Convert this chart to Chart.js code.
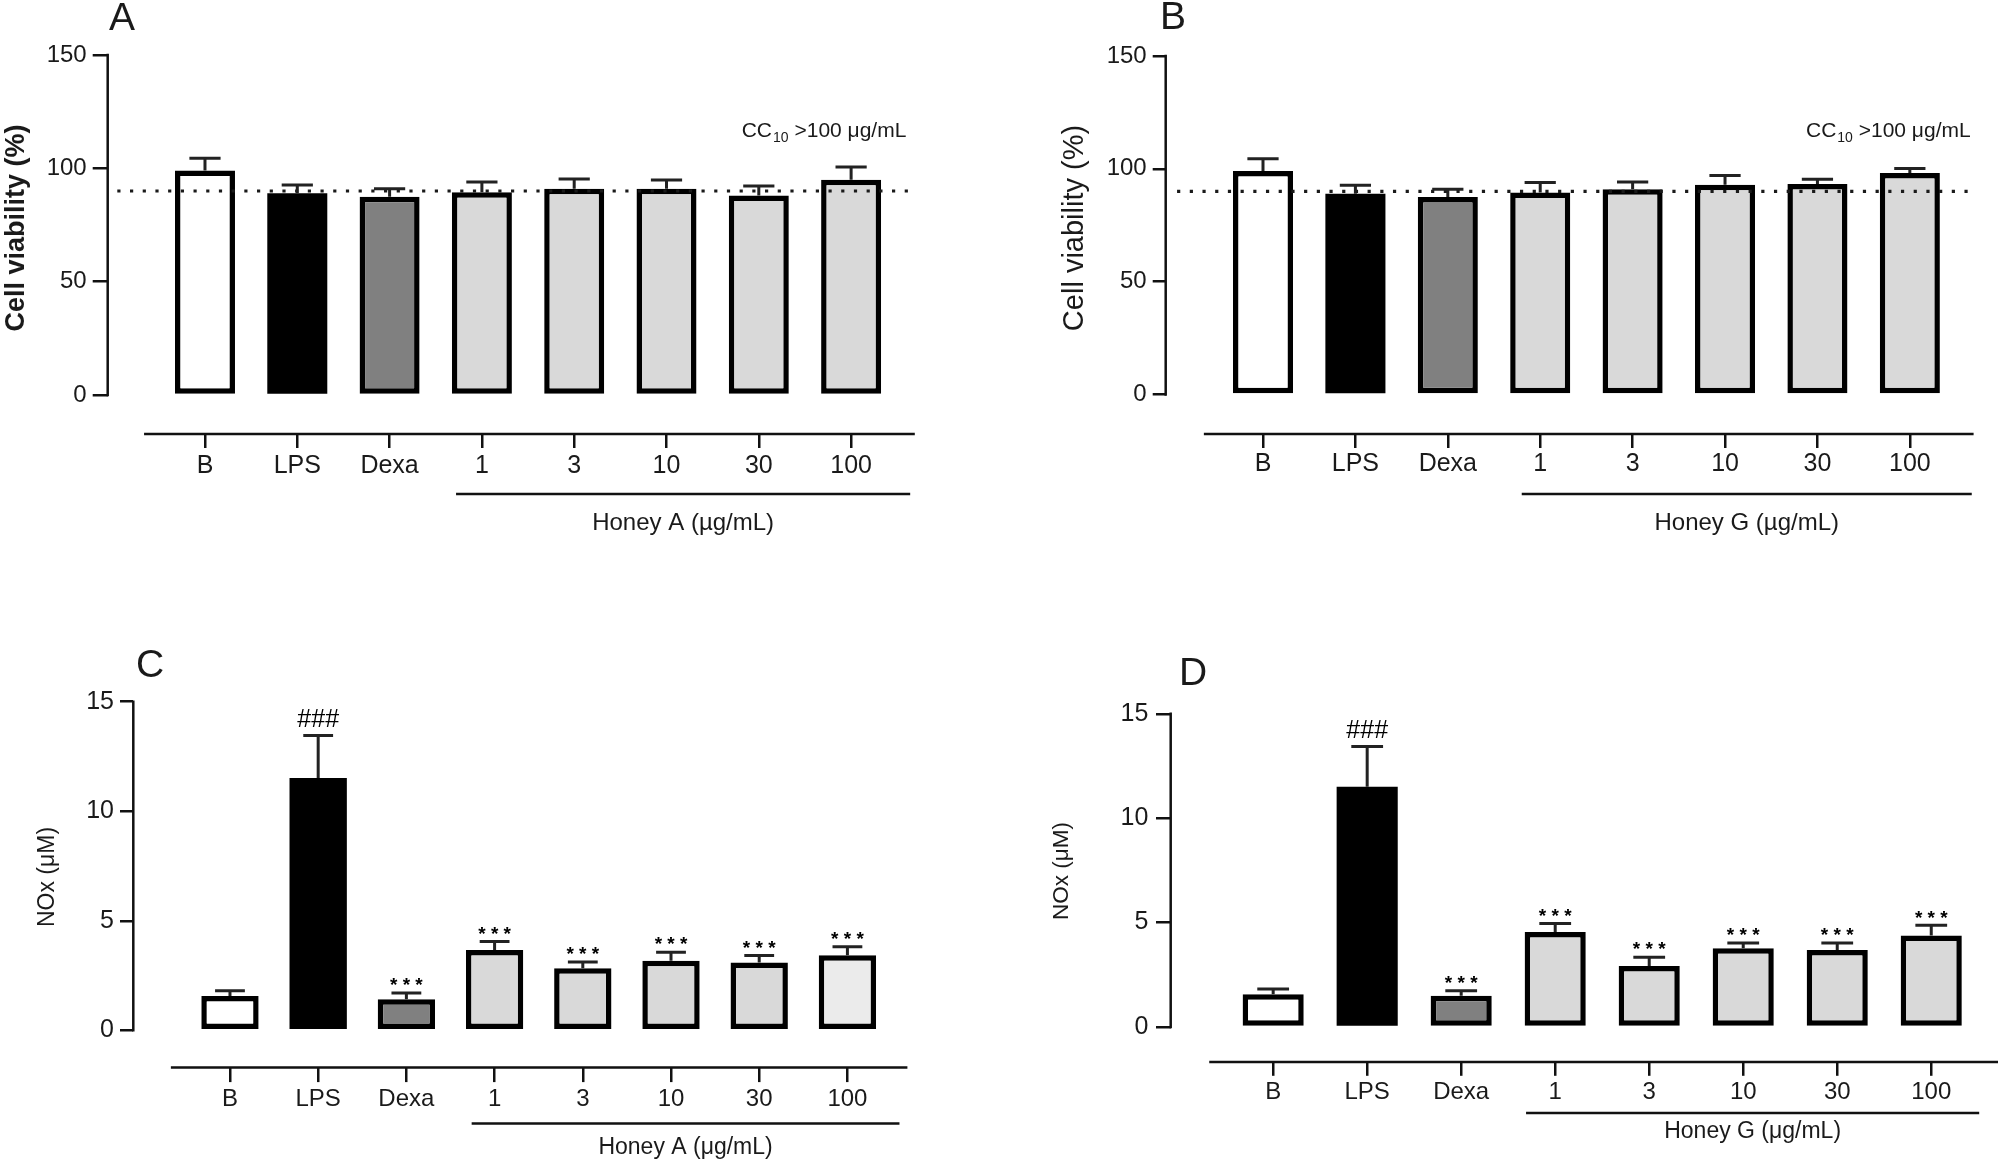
<!DOCTYPE html>
<html>
<head>
<meta charset="utf-8">
<script src="https://cdn.jsdelivr.net/npm/chart.js@4.4.1/dist/chart.umd.min.js"></script>
<style>
html, body { margin: 0; padding: 0; background: #ffffff; }
#wrap { position: relative; width: 2000px; height: 1161px; overflow: hidden; background: #ffffff; }
#wrap canvas { position: absolute; left: 0; top: 0; }
</style>
</head>
<body>
<div id="wrap">
  <canvas id="cA" width="2000" height="1161"></canvas>
  <canvas id="cB" width="2000" height="1161"></canvas>
  <canvas id="cC" width="2000" height="1161"></canvas>
  <canvas id="cD" width="2000" height="1161"></canvas>
</div>
<script>
// ---------- data ----------
const categories = ['B', 'LPS', 'Dexa', '1', '3', '10', '30', '100'];
const yTicksViability = [0, 50, 100, 150];
const yTicksNOx = [0, 5, 10, 15];

const viabilityHoneyA    = [99, 89, 87.5, 89.5, 91, 91, 88, 95];
const viabilityHoneyAErr = [5.5, 3.7, 3.5, 4.5, 4.3, 3.8, 4.2, 5.6];
const viabilityHoneyG    = [99, 89, 87.5, 89.5, 91, 93, 93.3, 98.2];
const viabilityHoneyGErr = [5.5, 3.7, 3.5, 4.5, 3.2, 4.0, 2.1, 2.0];

const noxHoneyA    = [1.57, 11.52, 1.42, 3.67, 2.83, 3.18, 3.10, 3.43];
const noxHoneyAErr = [0.24, 1.94, 0.28, 0.39, 0.29, 0.39, 0.32, 0.39];
const noxHoneyG    = [1.57, 11.51, 1.49, 4.55, 2.92, 3.77, 3.69, 4.38];
const noxHoneyGErr = [0.25, 1.92, 0.24, 0.41, 0.42, 0.25, 0.33, 0.49];

const viabilityThreshold = 90;
const significanceNOx = ['', '###', '***', '***', '***', '***', '***', '***'];

const barColors  = ['#ffffff', '#000000', '#808080', '#d9d9d9', '#d9d9d9', '#d9d9d9', '#d9d9d9', '#d9d9d9'];
const barColorsC = ['#ffffff', '#000000', '#808080', '#d9d9d9', '#d9d9d9', '#d9d9d9', '#d9d9d9', '#ebebeb'];

// ---------- styling / layout ----------
const FAMILY = '"Liberation Sans", Arial, Helvetica, sans-serif';
const INK = '#1a1a1a';

const panels = [
  { id: 'cA', values: viabilityHoneyA, errs: viabilityHoneyAErr, colors: barColors,
    yMin: -17.2, yMax: 150, yTicks: yTicksViability,
    area: { l: 107.7, r: 914.8, t: 55, b: 434 }, xMin: -1.054, xMax: 7.69,
    axisX: [-0.66, 7.69], group: [2.72, 7.64], groupDy: 60, groupLabel: 'Honey A (µg/mL)', groupLabelDy: 89, groupFont: 24,
    threshold: [-0.95, 7.66],
    letter: { t: 'A', x: 122, y: 19 },
    yTitle: { t: 'Cell viability (%)', x: 17, y: 228, size: 27, bold: true },
    cc: { x: 741.7, y: 137 },
    catFont: 25, tickFont: 24, yTickLen: 15, xTickLen: 14, yPad: 6, xPad: 3, sig: null },
  { id: 'cB', values: viabilityHoneyG, errs: viabilityHoneyGErr, colors: barColors,
    yMin: -17.5, yMax: 150, yTicks: yTicksViability,
    area: { l: 1165.7, r: 1973.6, t: 56, b: 434 }, xMin: -1.053, xMax: 7.69,
    axisX: [-0.64, 7.69], group: [2.80, 7.67], groupDy: 60, groupLabel: 'Honey G (µg/mL)', groupLabelDy: 89, groupFont: 24,
    threshold: [-0.93, 7.65],
    letter: { t: 'B', x: 1173, y: 18.5 },
    yTitle: { t: 'Cell viability (%)', x: 1075, y: 228, size: 29, bold: false },
    cc: { x: 1806, y: 137 },
    catFont: 25, tickFont: 24, yTickLen: 13, xTickLen: 14, yPad: 6, xPad: 1, sig: null },
  { id: 'cC', values: noxHoneyA, errs: noxHoneyAErr, colors: barColorsC,
    yMin: -1.70, yMax: 15, yTicks: yTicksNOx,
    area: { l: 133.3, r: 907.4, t: 701.7, b: 1067.6 }, xMin: -1.096, xMax: 7.68,
    axisX: [-0.67, 7.68], group: [2.74, 7.59], groupDy: 56, groupLabel: 'Honey A (μg/mL)', groupLabelDy: 80, groupFont: 23,
    threshold: null,
    letter: { t: 'C', x: 150, y: 666.5 },
    yTitle: { t: 'NOx (μM)', x: 48, y: 877, size: 23, bold: false },
    cc: null,
    catFont: 24, tickFont: 25, yTickLen: 13.3, xTickLen: 14.5, yPad: 6, xPad: 3, sig: significanceNOx },
  { id: 'cD', values: noxHoneyG, errs: noxHoneyGErr, colors: barColors,
    yMin: -1.68, yMax: 15, yTicks: yTicksNOx,
    area: { l: 1170.7, r: 1998, t: 713.8, b: 1062 }, xMin: -1.09, xMax: 7.71,
    axisX: [-0.68, 7.71], group: [2.69, 7.51], groupDy: 51, groupLabel: 'Honey G (μg/mL)', groupLabelDy: 70, groupFont: 23,
    threshold: null,
    letter: { t: 'D', x: 1193, y: 674 },
    yTitle: { t: 'NOx (μM)', x: 1062, y: 871, size: 22.5, bold: false },
    cc: null,
    catFont: 24, tickFont: 25, yTickLen: 14.7, xTickLen: 13.8, yPad: 7.7, xPad: 2, sig: significanceNOx }
];

const W = 2000, H = 1161, Y_W = 70, X_H = 70;

function annotPlugin(p) {
  return {
    id: 'annot_' + p.id,
    afterDatasetsDraw(chart) {
      const ctx = chart.ctx, xs = chart.scales.x, ys = chart.scales.y, ca = chart.chartArea;
      ctx.save();
      // axis lines
      ctx.strokeStyle = '#111';
      ctx.lineWidth = 2.5;
      ctx.lineCap = 'butt';
      ctx.beginPath();
      ctx.moveTo(ca.left, ys.getPixelForValue(0) + 1.25);
      ctx.lineTo(ca.left, ys.getPixelForValue(p.yMax) - 1.25);
      ctx.moveTo(xs.getPixelForValue(p.axisX[0]), ca.bottom);
      ctx.lineTo(xs.getPixelForValue(p.axisX[1]), ca.bottom);
      ctx.stroke();
      // group line + label
      const g0 = xs.getPixelForValue(p.group[0]), g1 = xs.getPixelForValue(p.group[1]);
      ctx.beginPath();
      ctx.moveTo(g0, ca.bottom + p.groupDy);
      ctx.lineTo(g1, ca.bottom + p.groupDy);
      ctx.stroke();
      ctx.fillStyle = INK;
      ctx.textAlign = 'center';
      ctx.textBaseline = 'middle';
      ctx.font = p.groupFont + 'px ' + FAMILY;
      ctx.fillText(p.groupLabel, (g0 + g1) / 2, ca.bottom + p.groupLabelDy);
      // error bars + significance marks
      const meta = chart.getDatasetMeta(0);
      meta.data.forEach((el, i) => {
        const top = ys.getPixelForValue(p.values[i] + p.errs[i]);
        const half = el.width * 0.26;
        ctx.strokeStyle = '#222222';
        ctx.lineWidth = 3;
        ctx.beginPath();
        ctx.moveTo(el.x, el.y);
        ctx.lineTo(el.x, top);
        ctx.moveTo(el.x - half, top);
        ctx.lineTo(el.x + half, top);
        ctx.stroke();
        if (p.sig && p.sig[i]) {
          ctx.fillStyle = '#000000';
          ctx.textAlign = 'center';
          ctx.textBaseline = 'middle';
          if (p.sig[i] === '###') {
            ctx.font = '25px ' + FAMILY;
            ctx.fillText('###', el.x, top - 15);
          } else {
            ctx.font = 'bold 19px ' + FAMILY;
            ctx.fillText('* * *', el.x, top - 7);
          }
        }
      });
      ctx.restore();
    },
    afterDraw(chart) {
      const ctx = chart.ctx;
      ctx.save();
      ctx.fillStyle = INK;
      // panel letter
      ctx.textAlign = 'center';
      ctx.textBaseline = 'middle';
      ctx.font = '39px ' + FAMILY;
      ctx.fillText(p.letter.t, p.letter.x, p.letter.y);
      // y title
      ctx.save();
      ctx.translate(p.yTitle.x, p.yTitle.y);
      ctx.rotate(-Math.PI / 2);
      ctx.font = (p.yTitle.bold ? 'bold ' : '') + p.yTitle.size + 'px ' + FAMILY;
      ctx.fillText(p.yTitle.t, 0, 0);
      ctx.restore();
      // CC10 note
      if (p.cc) {
        ctx.textAlign = 'left';
        ctx.textBaseline = 'alphabetic';
        ctx.font = '21px ' + FAMILY;
        ctx.fillText('CC', p.cc.x, p.cc.y);
        const w1 = ctx.measureText('CC').width;
        ctx.font = '14px ' + FAMILY;
        ctx.fillText('10', p.cc.x + w1 + 1, p.cc.y + 4.5);
        const w2 = ctx.measureText('10').width;
        ctx.font = '21px ' + FAMILY;
        ctx.fillText(' >100 μg/mL', p.cc.x + w1 + 1 + w2, p.cc.y);
      }
      ctx.restore();
    }
  };
}

function makeChart(p) {
  const datasets = [{
    type: 'bar',
    data: p.values.map((v, i) => ({ x: i, y: v })),
    backgroundColor: p.colors,
    borderColor: '#000000',
    borderWidth: p.colors.map(c => (c === '#000000' ? 0 : 5.5)),
    borderSkipped: false,
    barPercentage: 0.65,
    categoryPercentage: 1,
    order: 2
  }];
  if (p.threshold) {
    datasets.push({
      type: 'line',
      data: p.threshold.map(x => ({ x: x, y: viabilityThreshold })),
      borderColor: '#1a1a1a',
      borderWidth: 3.2,
      borderDash: [3.2, 9.5],
      borderCapStyle: 'butt',
      pointRadius: 0,
      fill: false,
      order: 1
    });
  }
  return new Chart(document.getElementById(p.id), {
    type: 'bar',
    data: { datasets },
    options: {
      responsive: false,
      animation: false,
      events: [],
      plugins: { legend: { display: false }, tooltip: { enabled: false } },
      layout: {
        padding: { left: p.area.l - Y_W, right: W - p.area.r, top: p.area.t, bottom: H - p.area.b - X_H }
      },
      scales: {
        x: {
          type: 'linear',
          min: p.xMin, max: p.xMax,
          offset: false,
          grid: { display: true, offset: false, drawOnChartArea: false, drawTicks: true,
                  tickLength: p.xTickLen, color: '#111', lineWidth: 2.5 },
          border: { display: false },
          afterBuildTicks: s => { s.ticks = categories.map((c, i) => ({ value: i })); },
          afterFit: s => { s.height = X_H; },
          ticks: {
            autoSkip: false, maxRotation: 0, minRotation: 0,
            padding: p.xPad, color: INK,
            font: { family: FAMILY, size: p.catFont },
            callback: v => categories[v]
          }
        },
        y: {
          type: 'linear',
          min: p.yMin, max: p.yMax,
          grid: { display: true, drawOnChartArea: false, drawTicks: true,
                  tickLength: p.yTickLen, color: '#111', lineWidth: 2.5 },
          border: { display: false },
          afterBuildTicks: s => { s.ticks = p.yTicks.map(v => ({ value: v })); },
          afterFit: s => { s.width = Y_W; },
          ticks: {
            padding: p.yPad, color: INK,
            font: { family: FAMILY, size: p.tickFont },
            callback: v => String(v)
          }
        }
      }
    },
    plugins: [annotPlugin(p)]
  });
}

panels.forEach(makeChart);
</script>
</body>
</html>
